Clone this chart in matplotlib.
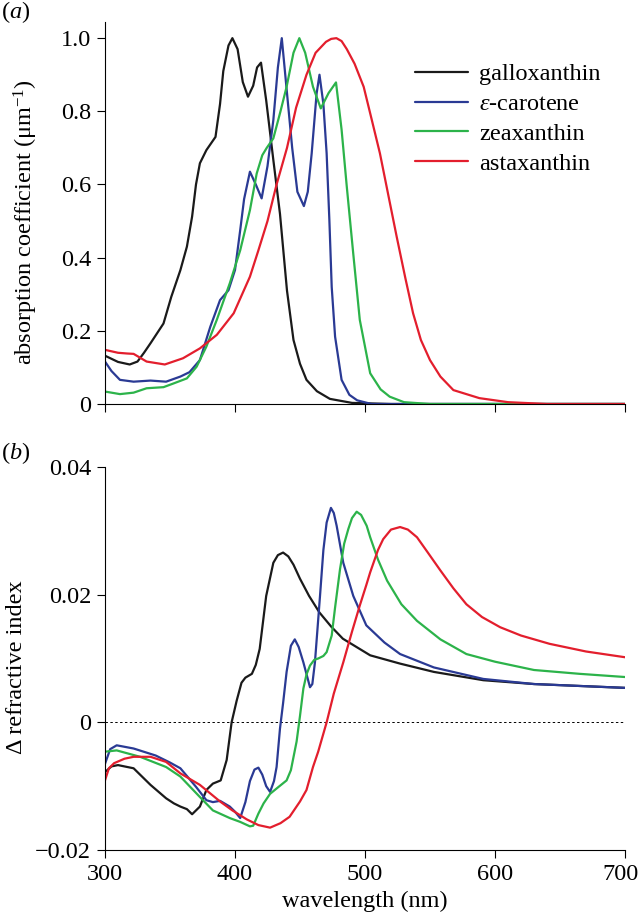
import matplotlib
matplotlib.use("Agg")
import matplotlib.pyplot as plt
import matplotlib.transforms as mtransforms

plt.rcParams['font.family'] = 'Liberation Serif'
plt.rcParams['mathtext.fontset'] = 'custom'
plt.rcParams['mathtext.rm'] = 'Liberation Serif'
plt.rcParams['mathtext.it'] = 'Liberation Serif:italic'

# ---- (a) absorption coefficient ----
gal_wl_a = [300, 310, 319, 325, 330, 335, 345, 351, 358, 363, 367, 370, 373, 378, 385, 388.5, 391, 395, 398,
            402, 406, 410, 414, 417, 420, 424, 429.5, 434.6, 440, 445, 450, 455, 463, 473, 490, 520, 700]
gal_abs = [0.132, 0.115, 0.108, 0.116, 0.14, 0.166, 0.22, 0.293, 0.366, 0.43, 0.512, 0.60, 0.658, 0.694, 0.73, 0.82, 0.91, 0.98, 1.0,
           0.97, 0.88, 0.84, 0.87, 0.92, 0.933, 0.83, 0.667, 0.52, 0.31, 0.175, 0.11, 0.066, 0.035, 0.014, 0.003, 0.0, 0.0]

eps_wl_a = [300, 305, 311.5, 322, 335, 347, 358, 365, 373, 381, 388.5, 395, 400, 404, 407, 411.5, 416, 420.5,
            425, 429.5, 433, 436, 440, 444, 448, 453, 456, 459, 462.8, 465, 468, 470.5, 472.6, 474.4, 477, 482,
            488, 494, 505, 700]
eps_abs = [0.116, 0.09, 0.066, 0.061, 0.064, 0.061, 0.075, 0.087, 0.12, 0.211, 0.284, 0.311, 0.366, 0.475, 0.56, 0.635, 0.60, 0.562,
           0.65, 0.776, 0.92, 1.0, 0.85, 0.70, 0.58, 0.541, 0.58, 0.685, 0.849, 0.90, 0.82, 0.685, 0.503, 0.32, 0.184, 0.066,
           0.025, 0.01, 0.0, 0.0]

zea_wl_a = [300, 311.5, 322, 332, 345, 352.6, 363, 370.5, 378, 386, 396, 404, 411.5, 416.7, 421, 424.4, 429.5,
            435, 439.7, 445, 449.5, 454, 460, 466, 472, 477.7, 482, 486, 491, 496, 504, 512, 519, 530, 550, 700]
zea_abs = [0.034, 0.027, 0.031, 0.043, 0.046, 0.056, 0.07, 0.102, 0.157, 0.23, 0.33, 0.42, 0.53, 0.63, 0.68, 0.70, 0.726,
           0.80, 0.867, 0.96, 1.0, 0.96, 0.867, 0.808, 0.85, 0.879, 0.75, 0.594, 0.41, 0.23, 0.084, 0.04, 0.02, 0.005, 0.0, 0.0]

ast_wl_a = [300, 310, 317, 322, 332, 346, 360, 373, 386, 399, 411.5, 418, 425, 432, 440, 447, 455, 462, 470,
            474, 478, 482, 486, 492, 499, 505, 511.5, 518, 524.4, 531, 537, 543, 550, 558, 568, 588, 610, 640, 700]
ast_abs = [0.148, 0.14, 0.138, 0.137, 0.116, 0.108, 0.125, 0.152, 0.189, 0.248, 0.348, 0.42, 0.50, 0.60, 0.70, 0.81, 0.90, 0.96, 0.99,
           0.998, 1.0, 0.992, 0.97, 0.93, 0.867, 0.78, 0.685, 0.57, 0.457, 0.345, 0.248, 0.175, 0.12, 0.075, 0.038, 0.016, 0.005, 0.0, 0.0]

# ---- (b) refractive index change ----
gal_wl_b = [300, 305, 310, 322, 335, 347, 353, 358, 363, 367, 373, 378, 383, 389, 393.6, 397.4, 401.3, 405,
            408, 413, 416, 419, 424, 429.5, 433, 437, 441, 445, 450, 457, 465, 474, 483, 504, 527, 553, 591,
            630, 665, 700]
gal_dn = [-0.0078, -0.0069, -0.0067, -0.0072, -0.0098, -0.0119, -0.0127, -0.0132, -0.0136, -0.0144, -0.0132, -0.0106,
          -0.0096, -0.0091, -0.0059, 0.0, 0.0034, 0.0062, 0.0070, 0.0076, 0.0090, 0.0115, 0.0198, 0.0250, 0.0262,
          0.0266, 0.0260, 0.0247, 0.0225, 0.0198, 0.0172, 0.0150, 0.0131, 0.0105, 0.0092, 0.0079, 0.0066,
          0.0060, 0.0057, 0.0054]

eps_wl_b = [300, 304, 309, 322, 339, 350, 358, 370, 378, 383, 388.5, 396, 400, 404, 408, 411.5, 415, 418,
            421, 424, 427, 430, 432, 434.6, 437, 439.7, 443, 446, 449, 452.6, 457.7, 459.5, 461.5, 465.4, 468,
            470.5, 473.8, 476, 478.2, 483.3, 491, 501, 515, 527, 553, 591, 630, 665, 700]
eps_dn = [-0.0065, -0.0042, -0.0036, -0.0041, -0.0052, -0.0063, -0.0072, -0.0101, -0.0122, -0.0125, -0.0123,
          -0.0132, -0.0140, -0.0150, -0.0125, -0.0092, -0.0074, -0.0071, -0.0082, -0.0100, -0.0109, -0.0092,
          -0.0070, -0.0010, 0.0030, 0.0079, 0.0120, 0.0130, 0.0118, 0.0094, 0.0055, 0.0060, 0.0094, 0.0198,
          0.0270, 0.0313, 0.0336, 0.0328, 0.0308, 0.0250, 0.0198, 0.0152, 0.0125, 0.0107, 0.0086, 0.0068,
          0.0060, 0.0057, 0.0054]

zea_wl_b = [300, 309, 327, 347, 358, 373, 383, 396, 404, 411.5, 414, 418, 422, 427, 433, 439.7, 443, 447.4,
            450, 452.6, 455, 457.7, 461, 464, 468, 470.5, 474.4, 477, 480.8, 484, 487.2, 490, 493.6, 497,
            501.3, 504, 510, 517, 528, 540, 558, 578, 600, 630, 665, 700]
zea_dn = [-0.0046, -0.0044, -0.0054, -0.0070, -0.0085, -0.0117, -0.0138, -0.0150, -0.0156, -0.0163, -0.0162,
          -0.0143, -0.0127, -0.0112, -0.0102, -0.0091, -0.0075, -0.0030, 0.0010, 0.0053, 0.0075, 0.0089,
          0.0098, 0.0100, 0.0104, 0.0110, 0.0136, 0.0180, 0.0240, 0.0280, 0.0303, 0.0320, 0.0330, 0.0325,
          0.0308, 0.0290, 0.0255, 0.0222, 0.0185, 0.0159, 0.0130, 0.0107, 0.0095, 0.0082, 0.0076, 0.0071]

ast_wl_b = [300, 303, 307, 315, 322, 335, 347, 358, 373, 388.5, 398, 409, 418, 427, 435, 442, 450, 455, 460,
            464, 470.5, 476, 483.3, 490, 496, 501, 504, 510, 514, 520, 527, 533, 540, 548, 558, 568, 578, 590,
            604, 620, 642, 670, 700]
ast_dn = [-0.0091, -0.0072, -0.0064, -0.0057, -0.0054, -0.0054, -0.0062, -0.0080, -0.0098, -0.0124, -0.0138,
          -0.0152, -0.0161, -0.0165, -0.0158, -0.0148, -0.0124, -0.0106, -0.0070, -0.0046, 0.0, 0.0045,
          0.0094, 0.0142, 0.0183, 0.0215, 0.0235, 0.0270, 0.0287, 0.0302, 0.0306, 0.0302, 0.0290, 0.0267,
          0.0238, 0.0210, 0.0185, 0.0165, 0.0149, 0.0136, 0.0123, 0.0111, 0.0102]

names = ['galloxanthin', r'$\mathit{\varepsilon}$-carotene', 'zeaxanthin', 'astaxanthin']
colors = ['#1a1a1a', '#2a3a94', '#2cb34a', '#e31e2d']

abs_tick_vals = [0, 0.2, 0.4, 0.6, 0.8, 1.0]
abs_tick_labels = ['0', '0.2', '0.4', '0.6', '0.8', '1.0']
dn_tick_vals = [-0.02, 0, 0.02, 0.04]
dn_tick_labels = ['\u22120.02', '0', '0.02', '0.04']
wl_ticks = [300, 400, 500, 600, 700]

FS = 17.5
LW = 1.6

fig = plt.figure(figsize=(6.41, 9.19), dpi=100)
ax1 = fig.add_axes([0.1638, 0.5604, 0.8112, 0.4156])
ax2 = fig.add_axes([0.1638, 0.0751, 0.8112, 0.4167])

top = [(gal_wl_a, gal_abs), (eps_wl_a, eps_abs), (zea_wl_a, zea_abs), (ast_wl_a, ast_abs)]
bot = [(gal_wl_b, gal_dn), (eps_wl_b, eps_dn), (zea_wl_b, zea_dn), (ast_wl_b, ast_dn)]

for (x, y), c, n in zip(top, colors, names):
    ax1.plot(x, y, color=c, lw=LW, label=n, solid_joinstyle='round', solid_capstyle='round')
for (x, y), c in zip(bot, colors):
    ax2.plot(x, y, color=c, lw=LW, solid_joinstyle='round', solid_capstyle='round')

ax2.axhline(0, color='black', lw=0.7, ls=(0, (2.5, 2.5)), zorder=0)

for ax in (ax1, ax2):
    ax.set_xlim(300, 700)
    ax.set_xticks(wl_ticks)
    for s in ('top', 'right'):
        ax.spines[s].set_visible(False)
    for s in ('left', 'bottom'):
        ax.spines[s].set_linewidth(0.8)
    ax.tick_params(direction='out', length=6, width=0.8, labelsize=FS, pad=4)

ax1.set_ylim(0, 1.044)
ax1.set_yticks(abs_tick_vals)
ax1.set_yticklabels(abs_tick_labels)
ax1.set_xticklabels([])
ax1.set_ylabel('absorption coefficient (\u03bcm$^{\u22121}$)', fontsize=FS, labelpad=15)
ax1.yaxis.label.set_y(0.476)

ax2.set_ylim(-0.02, 0.04)
ax2.set_yticks(dn_tick_vals)
ax2.set_yticklabels(dn_tick_labels)
ax2.set_ylabel('\u0394 refractive index', fontsize=FS, labelpad=6)
ax2.yaxis.label.set_y(0.478)
ax2.set_xlabel('wavelength (nm)', fontsize=FS, labelpad=4)

# nudge the last x tick label so it stays inside the figure
last = ax2.get_xticklabels()[-1]
last.set_transform(last.get_transform() + mtransforms.ScaledTranslation(-4 / 100, 0, fig.dpi_scale_trans))

ax1.legend(loc='upper left', bbox_to_anchor=(0.596, 0.892), frameon=False, fontsize=FS,
           handlelength=2.2, handletextpad=0.45, labelspacing=0.32, borderpad=0, borderaxespad=0)

fig.text(0.002, 0.987, '($\\mathit{a}$)', fontsize=FS, va='center', ha='left')
fig.text(0.002, 0.507, '($\\mathit{b}$)', fontsize=FS, va='center', ha='left')

fig.savefig('out.png', dpi=100)
